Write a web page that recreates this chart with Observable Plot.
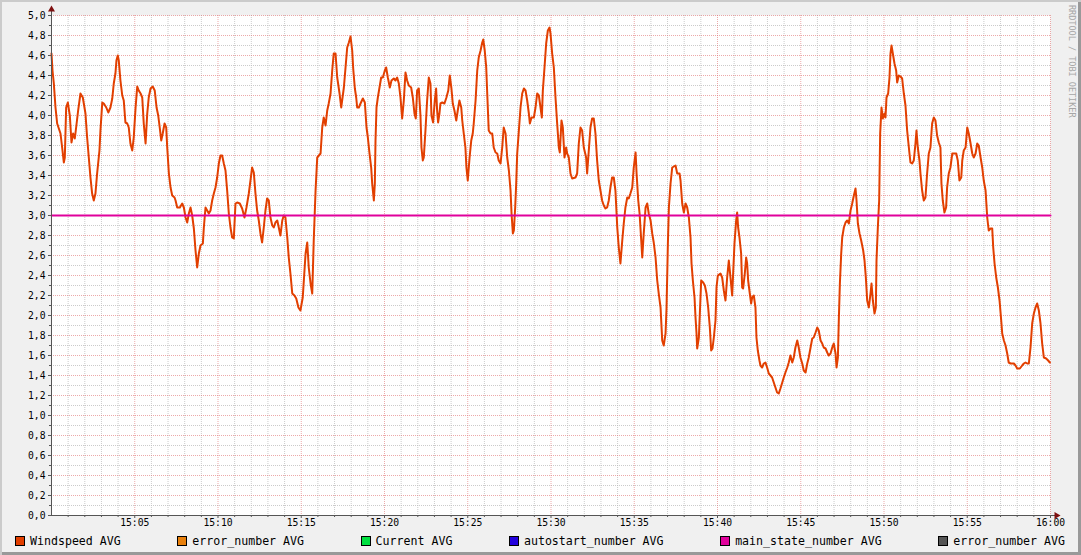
<!DOCTYPE html>
<html>
<head>
<meta charset="utf-8">
<script src="https://cdn.jsdelivr.net/npm/d3@7"></script>
<script src="https://cdn.jsdelivr.net/npm/@observablehq/plot@0.6"></script>
<style>
  html, body { margin: 0; padding: 0; background: #f0f0f0; }
  #frame {
    position: relative; width: 1081px; height: 555px; overflow: hidden;
    background: #f0f0f0;
    box-shadow: inset 2px 2px 0 #cbcbcb, inset -3px -3px 0 #999999;
    font-family: "DejaVu Sans Mono", monospace;
  }
  #chart { position: absolute; left: 0; top: 0; }
  #legend {
    position: absolute; top: 536px; left: 15px; right: 16px; height: 10px;
    display: flex; justify-content: space-between; align-items: center;
    font-size: 11.6px; color: #000; white-space: pre;
  }
  .item { display: flex; align-items: center; height: 10px; }
  .sw { display: inline-block; width: 8px; height: 8px; border: 1px solid #000; margin-right: 5px; }
  #watermark {
    position: absolute; left: 1067px; top: 5px; writing-mode: vertical-rl;
    font-size: 8.5px; line-height: 10px; color: #a6a6a6; white-space: pre;
  }
</style>
</head>
<body>
<div id="frame">
  <div id="chart"></div>
  <div id="legend"></div>
  <div id="watermark">RRDTOOL / TOBI OETIKER</div>
</div>
<script>
// ---- data (minutes after 15:00, windspeed) ----
const minutes = [
0.00,0.06,0.14,0.24,0.34,0.44,0.54,0.64,0.74,0.80,0.88,0.98,1.10,1.20,1.30,1.40,1.48,1.60,1.74,1.88,
2.04,2.14,2.24,2.34,2.44,2.54,2.64,2.74,2.88,2.94,3.05,3.14,3.29,3.41,3.54,3.65,3.74,3.84,3.90,3.98,
4.04,4.14,4.25,4.34,4.44,4.55,4.64,4.74,4.85,4.94,5.05,5.15,5.24,5.35,5.45,5.54,5.65,5.75,5.84,5.95,
6.08,6.20,6.31,6.41,6.50,6.59,6.68,6.79,6.89,6.95,7.05,7.15,7.25,7.39,7.45,7.55,7.71,7.85,7.95,8.05,
8.15,8.25,8.35,8.45,8.55,8.65,8.75,8.85,8.95,9.09,9.15,9.25,9.35,9.45,9.55,9.65,9.75,9.85,9.95,10.05,
10.15,10.25,10.35,10.45,10.55,10.65,10.75,10.85,10.95,11.05,11.15,11.31,11.45,11.59,11.71,11.85,11.95,12.05,12.15,12.25,
12.35,12.45,12.55,12.65,12.75,12.85,12.95,13.05,13.15,13.26,13.35,13.45,13.56,13.65,13.75,13.86,13.95,14.05,14.16,14.25,
14.35,14.46,14.59,14.70,14.83,14.95,15.09,15.26,15.36,15.45,15.56,15.66,15.75,15.86,15.96,16.16,16.26,16.35,16.46,16.56,
16.65,16.76,16.86,16.95,17.06,17.16,17.30,17.40,17.56,17.66,17.76,17.86,17.96,18.06,18.12,18.22,18.30,18.36,18.46,18.56,
18.70,18.82,18.92,19.00,19.10,19.20,19.26,19.36,19.42,19.46,19.52,19.60,19.70,19.80,19.90,20.02,20.10,20.20,20.32,20.42,
20.56,20.66,20.76,20.86,20.96,21.06,21.16,21.26,21.36,21.46,21.60,21.70,21.80,21.88,21.96,22.06,22.16,22.22,22.30,22.36,
22.46,22.56,22.66,22.76,22.82,22.92,23.02,23.10,23.16,23.22,23.30,23.36,23.47,23.60,23.72,23.83,23.92,24.02,24.10,24.20,
24.31,24.40,24.50,24.61,24.67,24.76,24.86,24.92,25.00,25.11,25.21,25.30,25.36,25.47,25.57,25.66,25.77,25.87,25.93,26.02,
26.11,26.17,26.26,26.37,26.47,26.56,26.67,26.77,26.86,26.97,27.07,27.16,27.27,27.37,27.47,27.57,27.63,27.71,27.77,27.85,
27.91,27.97,28.07,28.17,28.27,28.37,28.47,28.57,28.67,28.73,28.83,28.97,29.07,29.17,29.27,29.37,29.45,29.51,29.61,29.71,
29.81,29.91,29.97,30.07,30.17,30.27,30.37,30.47,30.53,30.63,30.71,30.81,30.91,30.97,31.07,31.17,31.27,31.47,31.57,31.67,
31.77,31.87,31.97,32.11,32.17,32.27,32.37,32.47,32.57,32.67,32.77,32.87,32.97,33.07,33.17,33.27,33.37,33.47,33.57,33.67,
33.77,33.87,33.98,34.07,34.17,34.28,34.37,34.47,34.58,34.67,34.77,34.88,34.97,35.08,35.14,35.24,35.32,35.42,35.48,35.57,
35.68,35.78,35.87,35.98,36.08,36.17,36.28,36.38,36.47,36.58,36.68,36.77,36.88,36.94,37.02,37.08,37.18,37.28,37.48,37.58,
37.72,37.78,37.88,37.98,38.08,38.18,38.28,38.38,38.44,38.52,38.62,38.68,38.74,38.78,38.88,38.94,39.02,39.14,39.24,39.34,
39.44,39.54,39.62,39.70,39.78,39.88,39.94,40.02,40.18,40.28,40.38,40.48,40.58,40.68,40.78,40.88,40.94,41.02,41.12,41.18,
41.24,41.32,41.42,41.48,41.54,41.64,41.72,41.78,41.84,41.94,42.02,42.08,42.18,42.28,42.34,42.42,42.52,42.58,42.68,42.78,
42.88,42.98,43.08,43.18,43.28,43.38,43.48,43.58,43.68,43.78,43.89,43.98,44.08,44.19,44.28,44.38,44.49,44.58,44.68,44.79,
44.88,44.98,45.09,45.18,45.29,45.39,45.48,45.59,45.69,45.78,45.89,45.99,46.08,46.19,46.29,46.38,46.49,46.59,46.68,46.79,
46.89,46.98,47.09,47.15,47.23,47.29,47.35,47.43,47.49,47.59,47.69,47.79,47.89,47.99,48.09,48.19,48.29,48.35,48.43,48.53,
48.63,48.75,48.83,48.91,48.99,49.09,49.19,49.25,49.33,49.43,49.51,49.55,49.63,49.71,49.77,49.85,49.93,50.03,50.09,50.15,
50.25,50.33,50.39,50.45,50.53,50.63,50.73,50.79,50.89,50.99,51.09,51.19,51.29,51.39,51.45,51.53,51.59,51.69,51.79,51.89,
51.95,52.03,52.13,52.19,52.29,52.39,52.49,52.59,52.69,52.79,52.89,52.99,53.09,53.19,53.29,53.39,53.45,53.53,53.63,53.73,
53.79,53.89,53.99,54.10,54.19,54.34,54.43,54.53,54.64,54.70,54.79,54.90,55.00,55.09,55.20,55.30,55.39,55.50,55.60,55.69,
55.80,55.90,55.99,56.10,56.20,56.29,56.40,56.50,56.56,56.64,56.74,56.84,56.94,57.04,57.10,57.20,57.30,57.40,57.49,57.60,
57.70,57.80,57.90,58.00,58.16,58.30,58.40,58.50,58.60,58.70,58.80,58.90,59.00,59.10,59.20,59.30,59.40,59.50,59.60,59.74,
59.86,59.96
];
const windspeed = [
4.62,4.45,4.32,4.08,3.92,3.87,3.82,3.68,3.53,3.58,4.08,4.13,4.00,3.73,3.82,3.77,3.88,4.05,4.22,4.18,
4.02,3.78,3.58,3.38,3.22,3.15,3.22,3.42,3.65,3.85,4.13,4.12,4.08,4.03,4.08,4.17,4.32,4.42,4.55,4.60,
4.55,4.35,4.20,4.15,3.93,3.92,3.88,3.72,3.65,3.78,4.08,4.29,4.25,4.22,4.18,3.92,3.72,4.02,4.18,4.27,
4.29,4.25,4.08,4.00,3.88,3.75,3.82,3.92,3.88,3.68,3.42,3.28,3.20,3.18,3.15,3.08,3.08,3.12,3.08,2.98,
2.93,3.02,3.08,3.00,2.87,2.65,2.48,2.62,2.70,2.72,2.88,3.08,3.05,3.02,3.05,3.15,3.22,3.28,3.38,3.52,
3.60,3.60,3.52,3.45,3.25,3.02,2.88,2.78,2.77,3.12,3.13,3.12,3.07,2.98,3.08,3.22,3.35,3.48,3.43,3.22,
3.05,2.95,2.82,2.73,2.88,3.05,3.17,3.15,2.98,2.90,2.88,2.93,2.95,2.88,2.80,2.95,3.00,2.98,2.78,2.58,
2.42,2.22,2.20,2.17,2.08,2.05,2.18,2.62,2.73,2.48,2.32,2.22,2.75,3.25,3.58,3.62,3.88,3.98,3.90,4.05,
4.12,4.22,4.45,4.62,4.62,4.38,4.22,4.08,4.28,4.48,4.68,4.73,4.79,4.65,4.47,4.27,4.18,4.08,4.08,4.12,
4.17,4.13,3.88,3.78,3.62,3.48,3.32,3.15,3.32,3.75,4.08,4.18,4.28,4.38,4.38,4.45,4.48,4.38,4.28,4.35,
4.37,4.35,4.38,4.32,4.18,3.97,4.15,4.43,4.35,4.30,4.28,4.18,4.02,3.97,4.25,4.27,4.00,3.68,3.55,3.58,
3.85,4.15,4.38,4.32,4.00,3.93,4.15,4.27,4.05,3.93,4.02,4.12,4.13,4.12,4.18,4.25,4.40,4.27,4.12,4.05,
3.95,4.05,4.15,4.08,3.95,3.82,3.68,3.48,3.35,3.58,3.75,3.82,3.92,4.15,4.45,4.58,4.65,4.73,4.76,4.65,
4.48,4.22,3.85,3.82,3.82,3.68,3.63,3.62,3.55,3.52,3.68,3.88,3.82,3.58,3.45,3.25,3.02,2.82,2.85,3.08,
3.32,3.62,3.85,4.08,4.22,4.27,4.25,4.15,4.02,3.92,3.98,3.98,4.08,4.22,4.20,4.08,3.98,4.25,4.48,4.72,
4.85,4.88,4.82,4.62,4.48,4.18,3.92,3.68,3.63,3.95,3.88,3.58,3.68,3.62,3.58,3.42,3.37,3.38,3.42,3.72,
3.88,3.85,3.68,3.58,3.42,3.65,3.88,3.97,3.97,3.82,3.55,3.35,3.25,3.15,3.10,3.07,3.08,3.15,3.28,3.38,
3.38,3.25,2.88,2.68,2.52,2.75,2.92,3.08,3.18,3.17,3.22,3.28,3.48,3.63,3.42,3.15,3.02,2.75,2.58,2.82,
3.08,3.12,3.02,2.95,2.82,2.73,2.58,2.35,2.22,2.08,1.75,1.70,1.82,2.08,2.72,3.08,3.32,3.48,3.50,3.42,
3.42,3.35,3.12,3.03,3.12,3.08,2.98,2.78,2.52,2.35,2.18,1.98,1.82,1.67,1.78,2.02,2.35,2.33,2.30,2.22,
2.08,1.88,1.65,1.67,1.78,1.95,2.28,2.40,2.42,2.38,2.25,2.15,2.38,2.55,2.38,2.20,2.42,2.72,2.95,3.03,
2.88,2.78,2.62,2.28,2.27,2.42,2.58,2.52,2.35,2.22,2.12,2.18,2.20,2.08,1.78,1.65,1.55,1.50,1.48,1.52,
1.53,1.48,1.42,1.40,1.38,1.33,1.28,1.23,1.22,1.27,1.33,1.38,1.43,1.48,1.53,1.60,1.53,1.58,1.68,1.75,
1.68,1.58,1.52,1.45,1.43,1.52,1.58,1.68,1.77,1.78,1.83,1.88,1.85,1.75,1.72,1.68,1.67,1.63,1.60,1.62,
1.68,1.72,1.62,1.48,1.58,1.98,2.32,2.62,2.78,2.88,2.93,2.95,2.92,3.05,3.12,3.20,3.27,3.15,2.92,2.82,
2.75,2.65,2.55,2.38,2.15,2.08,2.22,2.32,2.15,2.02,2.08,2.55,2.88,3.15,3.82,4.08,3.97,4.02,3.98,4.18,
4.22,4.38,4.62,4.70,4.62,4.52,4.45,4.33,4.40,4.39,4.37,4.22,4.10,3.85,3.75,3.62,3.53,3.52,3.55,3.72,
3.85,3.68,3.55,3.42,3.25,3.15,3.18,3.42,3.62,3.68,3.92,3.98,3.95,3.80,3.73,3.68,3.32,3.15,3.03,3.08,
3.28,3.42,3.48,3.62,3.62,3.62,3.55,3.35,3.38,3.55,3.65,3.68,3.88,3.82,3.72,3.62,3.58,3.62,3.72,3.70,
3.58,3.48,3.35,3.25,2.98,2.85,2.87,2.87,2.68,2.52,2.38,2.28,2.15,1.95,1.82,1.75,1.70,1.62,1.53,1.52,
1.52,1.52,1.50,1.47,1.47,1.50,1.52,1.53,1.52,1.52,1.68,1.92,2.02,2.08,2.12,2.05,1.92,1.72,1.58,1.57,
1.55,1.53
];
const mainStateMinutes = [0, 60];
const mainStateValues = [3.0, 3.0];
const xTickLabels = ["15:05","15:10","15:15","15:20","15:25","15:30","15:35","15:40","15:45","15:50","15:55","16:00"];
const yTickValues = [0,0.2,0.4,0.6,0.8,1.0,1.2,1.4,1.6,1.8,2.0,2.2,2.4,2.6,2.8,3.0,3.2,3.4,3.6,3.8,4.0,4.2,4.4,4.6,4.8,5.0];
const legendLabels = ["Windspeed AVG","error_number AVG","Current AVG","autostart_number AVG","main_state_number AVG","error_number AVG"];
const legendColors = ["#e23f00","#e8800c","#00e040","#2200dd","#e0009b","#555555"];

// ---- build ----
const base = new Date(2024, 0, 1, 15, 0, 0);
const toTime = m => new Date(base.getTime() + m * 60000);
const parseHM = s => { const [h, mm] = s.split(":").map(Number); return new Date(2024, 0, 1, h, mm, 0); };
const wind = minutes.map((m, i) => ({t: toTime(m), v: windspeed[i]}));
const state = mainStateMinutes.map((m, i) => ({t: toTime(m), v: mainStateValues[i]}));
const t0 = toTime(0), t1 = toTime(60);
const majorX = xTickLabels.map(parseHM);
const allMinutes = d3.timeMinute.range(t0, toTime(60.5));
const minorX = allMinutes.filter(d => d.getMinutes() % 5 !== 0);
const allY = d3.range(0, 51).map(i => i / 10);
const minorY = allY.filter((v, i) => i % 2 === 1);
const fmtY = d => d3.format(".1f")(d).replace(".", ",");

const chart = Plot.plot({
  width: 1081, height: 530,
  marginLeft: 51, marginRight: 31, marginTop: 15, marginBottom: 15,
  style: {background: "transparent", fontFamily: "'DejaVu Sans Mono', monospace", fontSize: "9.7px", color: "#000"},
  x: {type: "time", domain: [t0, t1], label: null},
  y: {domain: [0, 5], label: null},
  marks: [
    Plot.frame({fill: "#ffffff", stroke: null}),
    Plot.ruleY(minorY, {stroke: "#bababa", strokeOpacity: 0.75, strokeDasharray: "1,1"}),
    Plot.ruleX(minorX, {stroke: "#bababa", strokeOpacity: 0.75, strokeDasharray: "1,1"}),
    Plot.ruleY(yTickValues.filter(v => v > 0), {stroke: "#e07070", strokeOpacity: 0.6, strokeDasharray: "1,1"}),
    Plot.ruleX(majorX, {stroke: "#e07070", strokeOpacity: 0.6, strokeDasharray: "1,1"}),
    Plot.axisY({ticks: minorY, tickSize: 2, tickFormat: () => "", stroke: "#555"}),
    Plot.axisY({ticks: yTickValues, tickSize: 3, tickPadding: 3, tickFormat: fmtY, stroke: "#555", fill: "#000"}),
    Plot.axisX({ticks: minorX, tickSize: 2, tickFormat: () => "", stroke: "#555"}),
    Plot.axisX({ticks: majorX, tickSize: 3, tickPadding: 1, tickFormat: d3.timeFormat("%H:%M"), stroke: "#555", fill: "#000"}),
    Plot.line(wind, {x: "t", y: "v", stroke: legendColors[0], strokeWidth: 2}),
    Plot.line(state, {x: "t", y: "v", stroke: legendColors[4], strokeWidth: 2}),
    Plot.ruleY([0], {stroke: "#555", strokeWidth: 1, insetRight: -5}),
    Plot.ruleX([t0], {stroke: "#555", strokeWidth: 1, insetTop: -5}),
    Plot.dot([[t0, 5]], {x: d => d[0], y: d => d[1], dy: -6, symbol: "triangle", r: 2.6, fill: "#7f1010", stroke: null}),
    Plot.dot([[t1, 0]], {x: d => d[0], y: d => d[1], dx: 6, rotate: 90, symbol: "triangle", r: 2.6, fill: "#7f1010", stroke: null})
  ]
});
document.getElementById("chart").appendChild(chart);

const legend = document.getElementById("legend");
legendLabels.forEach((lab, i) => {
  const item = document.createElement("div");
  item.className = "item";
  const sw = document.createElement("span");
  sw.className = "sw";
  sw.style.background = legendColors[i];
  const tx = document.createElement("span");
  tx.textContent = lab;
  item.appendChild(sw); item.appendChild(tx);
  legend.appendChild(item);
});
</script>
</body>
</html>
